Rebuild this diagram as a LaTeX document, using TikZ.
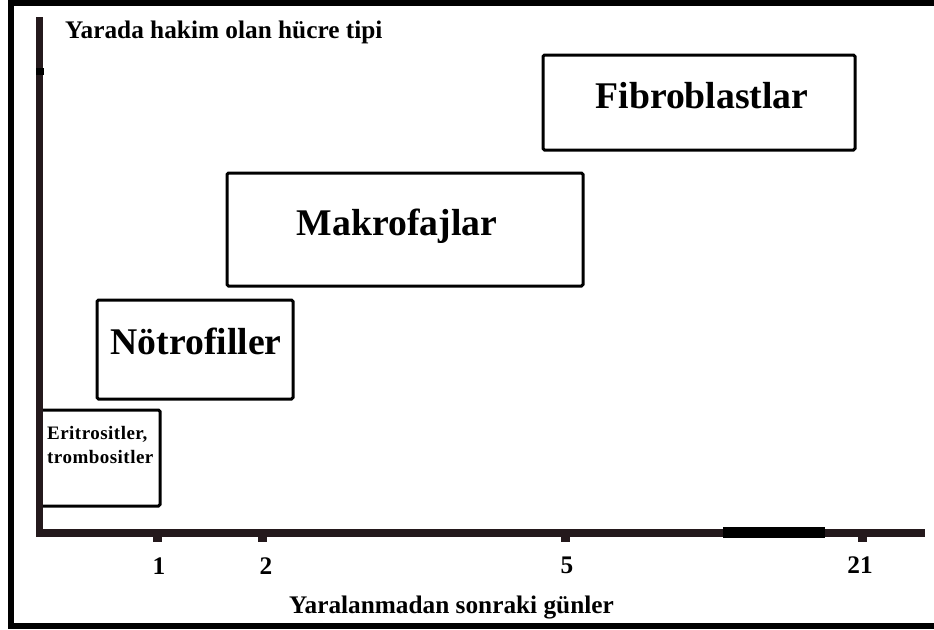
\documentclass[tikz,border=0pt]{standalone}
\usepackage{fontspec}
\setmainfont{Liberation Serif}
\newfontfamily\spacedserif[LetterSpace=2.5]{Liberation Serif}
\definecolor{axiscol}{rgb}{0.14,0.10,0.11}
\begin{document}
\begin{tikzpicture}[x=1pt,y=-1pt,
  box/.style={draw=black, line width=3pt, rounded corners=1.5pt, inner sep=0pt},
  big/.style={font=\fontsize{37.7}{40}\selectfont\bfseries, anchor=base, inner sep=0pt},
  lab/.style={font=\fontsize{25.3}{28}\selectfont\bfseries, anchor=base, inner sep=0pt},
  small/.style={font=\spacedserif\fontsize{19}{22}\selectfont\bfseries, anchor=base west, inner sep=0pt},
  tickmark/.style={fill=axiscol}]
\useasboundingbox (0,0) rectangle (934,629);
\clip (0,0) rectangle (934,629);
\fill[white] (0,0) rectangle (934,629);
% outer frame
\draw[line width=6pt] (11,3) rectangle (950,626);
% boxes
\node[box, minimum width=312pt, minimum height=95pt] (fibbox) at (699,102.5) {};
\node[box, minimum width=356pt, minimum height=113pt] (makbox) at (405,229.5) {};
\node[box, minimum width=196pt, minimum height=99pt] (notbox) at (195,349.5) {};
\node[box, minimum width=120pt, minimum height=96pt] (eribox) at (100,458) {};
% box texts
\node[big] (fib) at (702,108) {Fibroblastlar};
\node[big] (mak) at (397,235) {Makrofajlar};
\node[big] (not) at (196,354) {Nötrofiller};
\node[small] (eri1) at (47,439) {Eritrositler,};
\node[small] (eri2) at (47,463) {trombositler};
% axes
\coordinate (ytop) at (39.5,17);
\coordinate (orig) at (39.5,532.5);
\coordinate (xend) at (925,532.5);
\draw[line width=7pt, axiscol] (ytop) -- (39.5,536);
\draw[line width=8pt, axiscol] (36,532.5) -- (xend);
\fill[black] (36,68) rectangle (43.5,75);
\fill[black] (723,527) rectangle (825,537.5);
% ticks
\fill[tickmark] (153,536) rectangle (162,542);
\fill[tickmark] (258,536) rectangle (267,542);
\fill[tickmark] (561,536) rectangle (570,542);
\fill[tickmark] (858,536) rectangle (867,542);
% tick labels
\node[lab] (t1) at (159,574) {1};
\node[lab] (t2) at (266,574) {2};
\node[lab] (t5) at (567,573) {5};
\node[lab] (t21) at (860,573) {21};
% axis titles
\node[lab, anchor=base west] (ylab) at (65,38) {Yarada hakim olan hücre tipi};
\node[lab] (xlab) at (451.5,613) {Yaralanmadan sonraki günler};
\end{tikzpicture}
\end{document}
